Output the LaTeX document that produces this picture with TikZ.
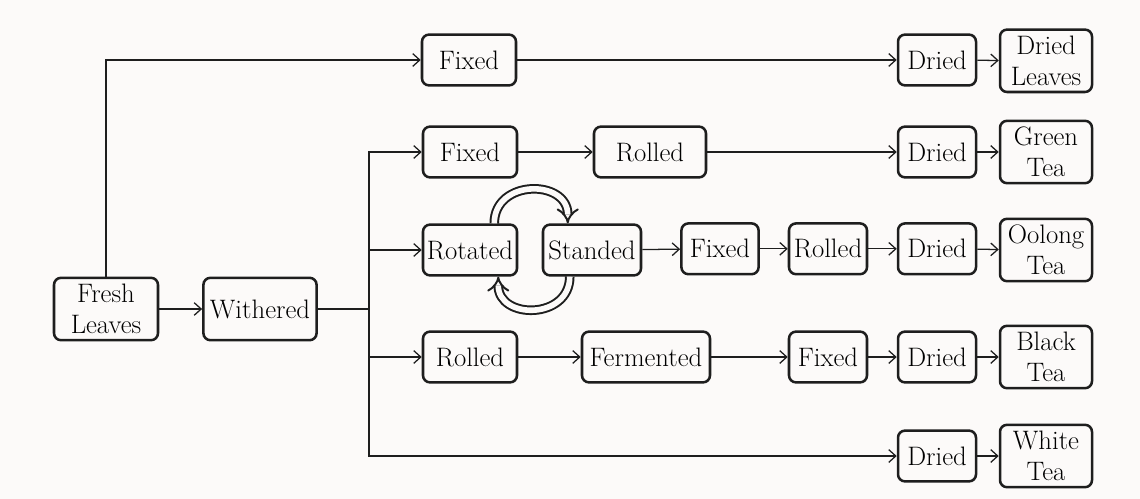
\documentclass[tikz,border=0pt]{standalone}
\usepackage{tikz}
\usepackage{xcolor}
\usetikzlibrary{arrows.meta}
\definecolor{paper}{RGB}{252,250,249}
\definecolor{ink}{RGB}{30,30,30}

\begin{document}
\begin{tikzpicture}[
    stepbox/.style={draw=ink,rectangle,rounded corners=5pt,line width=1.8pt,
        minimum height=1.27cm,inner xsep=1pt,inner ysep=1pt,align=center,
        font=\fontsize{19}{22}\selectfont},
    tallbox/.style={stepbox,minimum height=1.56cm,minimum width=2.3cm},
    flow/.style={draw=ink,line width=0.9pt,-{Straight Barb[length=5pt,width=9pt]}},
    cycle/.style={draw=ink,double=paper,double distance=4pt,line width=1.4pt,-{Implies}}]
    % page
    \fill[paper] (0,0) rectangle (28.5,-12.475);
    \useasboundingbox (0,0) rectangle (28.5,-12.475);

    \node[tallbox,minimum width=2.6cm] (fresh) at (2.65,-7.725) {Fresh\\Leaves};
    \node[tallbox,minimum width=2.83cm] (withered) at (6.5,-7.725) {Withered};
    \coordinate (split) at (9.225,-7.725);

    % dried leaves
    \node[stepbox,minimum width=2.35cm] (fixedA) at (11.725,-1.5) {Fixed};
    \node[stepbox,minimum width=1.95cm] (driedA) at (23.425,-1.5) {Dried};
    \node[tallbox] (leaves) at (26.15,-1.52) {Dried\\Leaves};

    % green tea
    \node[stepbox,minimum width=2.35cm] (fixedB) at (11.75,-3.8) {Fixed};
    \node[stepbox,minimum width=2.8cm] (rolledB) at (16.25,-3.8) {Rolled};
    \node[stepbox,minimum width=1.95cm] (driedB) at (23.425,-3.8) {Dried};
    \node[tallbox] (green) at (26.15,-3.8) {Green\\Tea};

    % oolong tea
    \node[stepbox,minimum width=2.35cm] (rotated) at (11.75,-6.25) {Rotated};
    \node[stepbox,minimum width=2.45cm] (standed) at (14.8,-6.25) {Standed};
    \node[stepbox,minimum width=1.93cm] (fixedC) at (18.0,-6.22) {Fixed};
    \node[stepbox,minimum width=1.95cm] (rolledC) at (20.7,-6.22) {Rolled};
    \node[stepbox,minimum width=1.95cm] (driedC) at (23.425,-6.22) {Dried};
    \node[tallbox] (oolong) at (26.15,-6.25) {Oolong\\Tea};

    % black tea
    \node[stepbox,minimum width=2.35cm] (rolledD) at (11.75,-8.925) {Rolled};
    \node[stepbox,minimum width=3.2cm] (fermented) at (16.15,-8.925) {Fermented};
    \node[stepbox,minimum width=1.95cm] (fixedD) at (20.7,-8.925) {Fixed};
    \node[stepbox,minimum width=1.95cm] (driedD) at (23.425,-8.925) {Dried};
    \node[tallbox] (black) at (26.15,-8.925) {Black\\Tea};

    % white tea
    \node[stepbox,minimum width=1.95cm] (driedE) at (23.425,-11.4) {Dried};
    \node[tallbox] (white) at (26.15,-11.4) {White\\Tea};

    \draw[flow] (fresh) -- (withered);
    \draw[flow] (fresh.north) |- (fixedA);
    \draw[flow] (fixedA) -- (driedA);
    \draw[flow] (driedA) -- (leaves);

    \draw[draw=ink,line width=0.9pt] (withered) -- (split);
    \draw[flow] (split) |- (fixedB);
    \draw[flow] (split) |- (rotated);
    \draw[flow] (split) |- (rolledD);
    \draw[flow] (split) |- (driedE);

    \draw[flow] (fixedB) -- (rolledB);
    \draw[flow] (rolledB) -- (driedB);
    \draw[flow] (driedB) -- (green);

    \draw[cycle] ([xshift=-0.6cm]rotated.north east) to[out=90,in=90,looseness=1.55] ([xshift=0.65cm]standed.north west);
    \draw[cycle] ([xshift=0.7cm]standed.south west) to[out=-90,in=-90,looseness=1.55] ([xshift=-0.5cm]rotated.south east);
    \draw[flow] (standed) -- (fixedC);
    \draw[flow] (fixedC) -- (rolledC);
    \draw[flow] (rolledC) -- (driedC);
    \draw[flow] (driedC) -- (oolong);

    \draw[flow] (rolledD) -- (fermented);
    \draw[flow] (fermented) -- (fixedD);
    \draw[flow] (fixedD) -- (driedD);
    \draw[flow] (driedD) -- (black);

    \draw[flow] (driedE) -- (white);
\end{tikzpicture}
\end{document}
